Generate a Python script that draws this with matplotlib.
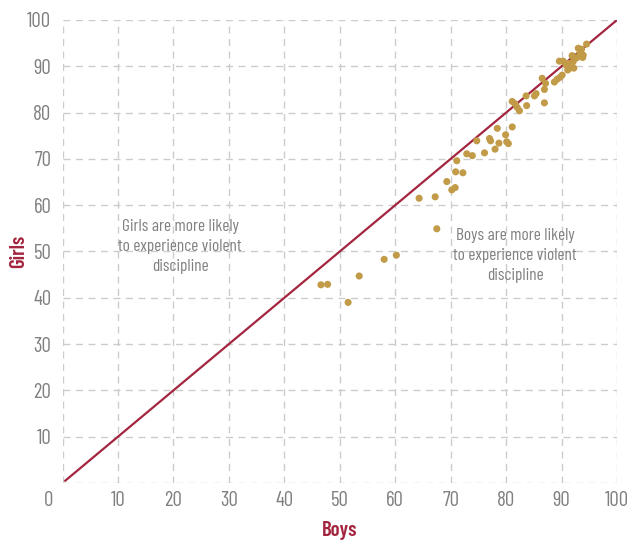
import matplotlib
matplotlib.use('Agg')
import matplotlib.pyplot as plt
import matplotlib.transforms as mtransforms

# boys vs girls, % experiencing violent discipline
boys = [46.6, 47.8, 51.5, 53.5, 58.0, 60.2, 64.3, 67.2, 67.5, 69.3,
        70.2, 70.8, 70.9, 72.2, 71.1, 72.9, 73.9, 74.7, 76.1, 77.0,
        77.2, 78.0, 78.7, 78.4, 79.9, 80.1, 80.4, 81.1, 81.1, 81.6,
        82.0, 82.4, 83.6, 83.7, 85.1, 85.4, 86.9, 86.9, 86.5, 87.1,
        88.7, 89.2, 89.7, 90.1, 89.6, 90.3, 90.8, 91.1, 91.5, 91.9,
        92.1, 92.2, 93.3, 93.6, 93.8, 93.9, 94.5, 93.0, 92.7, 91.2]
girls = [42.8, 42.9, 39.0, 44.7, 48.3, 49.2, 61.5, 61.8, 54.9, 65.1,
         63.3, 63.8, 67.2, 67.0, 69.6, 71.1, 70.7, 73.9, 71.3, 74.4,
         73.9, 72.1, 73.4, 76.6, 75.2, 73.7, 73.3, 76.9, 82.4, 81.9,
         81.1, 80.4, 83.6, 81.5, 83.6, 84.1, 82.1, 85.0, 87.4, 86.3,
         86.6, 87.2, 87.6, 88.1, 91.1, 91.1, 90.3, 89.2, 89.6, 92.3,
         91.0, 89.6, 92.8, 93.7, 91.9, 92.4, 94.8, 93.9, 91.8, 90.6]
ticks = list(range(0, 101, 10))

font = 'Barlow Condensed'
red = '#a3253f'
gold = '#c19b47'
grey = '#808080'

fig = plt.figure(figsize=(6.29, 5.4), dpi=100)
ax = fig.add_axes([0.0994, 0.1056, 0.8816, 0.8574])

ax.plot([0.5, 100], [0.5, 100], color=red, lw=1.6, zorder=2)
ax.scatter(boys, girls, s=26, color=gold, edgecolors='none', zorder=3)

ax.set_xlim(0, 100)
ax.set_ylim(0, 100)
ax.set_xticks(ticks)
ax.set_yticks(ticks)
ax.set_xticklabels([str(t) for t in ticks])
ax.set_yticklabels([''] + [str(t) for t in ticks[1:]])
ax.grid(True, color='#cccccc', ls=(0, (5, 4)), lw=1.0, zorder=0)
for s in ax.spines.values():
    s.set_visible(False)
ax.tick_params(length=0, colors=grey, labelsize=15)
ax.tick_params(axis='x', pad=6)
ax.tick_params(axis='y', pad=8)
for lab in ax.get_xticklabels() + ax.get_yticklabels():
    lab.set_fontfamily(font)
# the 0 sits left of the corner
x0 = ax.get_xticklabels()[0]
x0.set_transform(x0.get_transform() + mtransforms.ScaledTranslation(-14 / 100, 0, fig.dpi_scale_trans))

ax.set_xlabel('Boys', color=red, fontsize=15, fontweight='semibold', family=font, va='center')
ax.set_ylabel('Girls', color=red, fontsize=15, fontweight='semibold', family=font, va='center')
ax.xaxis.set_label_coords(0.5, -0.103)
ax.yaxis.set_label_coords(-0.080, 0.5)

ax.text(21.2, 51.0, 'Girls are more likely\nto experience violent\ndiscipline',
        ha='center', va='center', color=grey, fontsize=12.5, family=font,
        linespacing=1.42)
ax.text(81.6, 49.2, 'Boys are more likely\nto experience violent\ndiscipline',
        ha='center', va='center', color=grey, fontsize=12.5, family=font,
        linespacing=1.42)

fig.savefig('out.png', dpi=100)
